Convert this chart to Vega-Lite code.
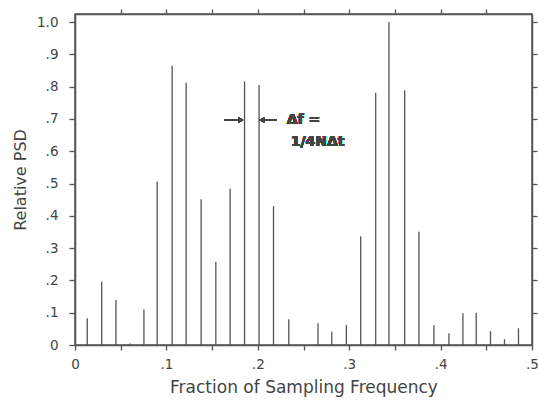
{
  "$schema": "https://vega.github.io/schema/vega-lite/v6.json",
  "width": 457,
  "height": 331,
  "autosize": "none",
  "padding": {"left": 75, "top": 14, "right": 6, "bottom": 59},
  "background": "white",
  "config": {
    "font": "DejaVu Sans",
    "view": {"stroke": "#555", "strokeWidth": 1.5},
    "axis": {"domainColor": "#555", "domainWidth": 1.5, "tickColor": "#555", "tickWidth": 1.3, "grid": false, "labelColor": "#444", "titleColor": "#444"}
  },
  "data": {
    "values": [
      {"f": 0.0134, "psd": 0.083},
      {"f": 0.0292, "psd": 0.196},
      {"f": 0.0448, "psd": 0.139},
      {"f": 0.0601, "psd": 0.005},
      {"f": 0.0754, "psd": 0.110},
      {"f": 0.0899, "psd": 0.506},
      {"f": 0.1063, "psd": 0.865},
      {"f": 0.1216, "psd": 0.812},
      {"f": 0.1380, "psd": 0.451},
      {"f": 0.1541, "psd": 0.258},
      {"f": 0.1697, "psd": 0.485},
      {"f": 0.1855, "psd": 0.817},
      {"f": 0.2014, "psd": 0.805},
      {"f": 0.2172, "psd": 0.430},
      {"f": 0.2339, "psd": 0.080},
      {"f": 0.2659, "psd": 0.067},
      {"f": 0.2809, "psd": 0.041},
      {"f": 0.2969, "psd": 0.062},
      {"f": 0.3126, "psd": 0.337},
      {"f": 0.3290, "psd": 0.781},
      {"f": 0.3435, "psd": 1.0},
      {"f": 0.3607, "psd": 0.789},
      {"f": 0.3763, "psd": 0.351},
      {"f": 0.3927, "psd": 0.062},
      {"f": 0.4091, "psd": 0.036},
      {"f": 0.4244, "psd": 0.098},
      {"f": 0.4390, "psd": 0.100},
      {"f": 0.4546, "psd": 0.043},
      {"f": 0.4699, "psd": 0.018},
      {"f": 0.4852, "psd": 0.052}
    ]
  },
  "resolve": {"axis": {"x": "independent", "y": "independent"}},
  "layer": [
    {
      "mark": {"type": "rule", "color": "#555", "strokeWidth": 1.3},
      "encoding": {
        "x": {
          "field": "f", "type": "quantitative",
          "scale": {"domain": [0, 0.5], "nice": false, "zero": false},
          "axis": {
            "orient": "bottom",
            "values": [0, 0.05, 0.1, 0.15, 0.2, 0.25, 0.3, 0.35, 0.4, 0.45, 0.5],
            "labelExpr": "datum.value == 0 ? '0' : (round(datum.value * 100) % 10 == 0 ? replace(format(datum.value, '.1f'), '0.', '.') : '')",
            "tickSize": 5, "labelPadding": 7, "labelFontSize": 13.5, "labelFlush": false,
            "title": "Fraction of Sampling Frequency", "titleFontSize": 17, "titleFontWeight": "normal", "titlePadding": 9
          }
        },
        "y": {
          "field": "psd", "type": "quantitative",
          "scale": {"domain": [0, 1.025], "nice": false},
          "axis": {
            "orient": "left",
            "values": [0, 0.1, 0.2, 0.3, 0.4, 0.5, 0.6, 0.7, 0.8, 0.9, 1.0],
            "labelExpr": "datum.value == 0 ? '0' : replace(format(datum.value, '.1f'), '0.', '.')",
            "tickSize": 6, "labelPadding": 11, "labelFontSize": 13.5,
            "title": "Relative PSD", "titleFontSize": 16, "titleFontWeight": "normal", "titlePadding": 8
          }
        },
        "y2": {"datum": 0}
      }
    },
    {
      "mark": {"type": "rule", "opacity": 0},
      "encoding": {
        "x": {
          "field": "f", "type": "quantitative",
          "axis": {"orient": "top", "values": [0.05, 0.1, 0.15, 0.2, 0.25, 0.3, 0.35, 0.4, 0.45], "labels": false, "tickSize": 5, "title": null}
        },
        "y": {
          "field": "psd", "type": "quantitative",
          "axis": {"orient": "right", "values": [0.1, 0.2, 0.3, 0.4, 0.5, 0.6, 0.7, 0.8, 0.9, 1.0], "labels": false, "tickSize": 5, "title": null}
        }
      }
    },
    {
      "mark": {"type": "rule", "color": "#444", "strokeWidth": 1.2},
      "encoding": {
        "x": {"datum": 0.163, "type": "quantitative", "axis": null},
        "x2": {"datum": 0.181},
        "y": {"datum": 0.697, "type": "quantitative", "axis": null}
      }
    },
    {
      "mark": {"type": "rule", "color": "#444", "strokeWidth": 1.2},
      "encoding": {
        "x": {"datum": 0.2208, "type": "quantitative", "axis": null},
        "x2": {"datum": 0.2045},
        "y": {"datum": 0.697, "type": "quantitative", "axis": null}
      }
    },
    {
      "mark": {"type": "point", "shape": "triangle-right", "filled": true, "color": "#444", "size": 30, "opacity": 1},
      "encoding": {
        "x": {"datum": 0.1815, "type": "quantitative", "axis": null},
        "y": {"datum": 0.697, "type": "quantitative", "axis": null}
      }
    },
    {
      "mark": {"type": "point", "shape": "triangle-left", "filled": true, "color": "#444", "size": 30, "opacity": 1},
      "encoding": {
        "x": {"datum": 0.2045, "type": "quantitative", "axis": null},
        "y": {"datum": 0.697, "type": "quantitative", "axis": null}
      }
    },
    {
      "mark": {"type": "text", "text": "Δf =", "align": "left", "baseline": "middle", "fontSize": 14, "fontWeight": "bold", "color": "#444"},
      "encoding": {
        "x": {"datum": 0.2317, "type": "quantitative", "axis": null},
        "y": {"datum": 0.697, "type": "quantitative", "axis": null}
      }
    },
    {
      "mark": {"type": "text", "text": "1/4NΔt", "align": "left", "baseline": "middle", "fontSize": 14, "fontWeight": "bold", "color": "#444"},
      "encoding": {
        "x": {"datum": 0.236, "type": "quantitative", "axis": null},
        "y": {"datum": 0.63, "type": "quantitative", "axis": null}
      }
    }
  ]
}
